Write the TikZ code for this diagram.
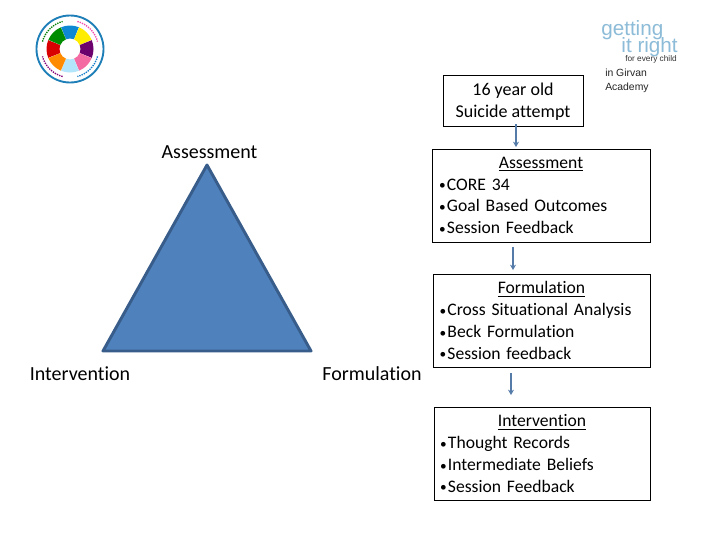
\documentclass[tikz,border=0pt]{standalone}
\usepackage{fontspec}
\setmainfont[Ligatures=CommonOff]{Carlito}
\newfontfamily\logofont{Liberation Sans}
\definecolor{triFill}{HTML}{4F81BD}
\definecolor{triLine}{HTML}{385D8A}
\definecolor{flowLine}{HTML}{557CA8}
\definecolor{logoBlue}{HTML}{8DBCD8}
\definecolor{ringBlue}{HTML}{1E7FB8}
\tikzset{
  box/.style={draw=black,line width=0.75pt,fill=white,inner sep=0pt,font=\fontsize{13.2}{16.3}\selectfont,align=left},
  lbl/.style={inner sep=0pt,font=\fontsize{15}{18}\selectfont},
  flow/.style={draw=flowLine,line width=1.6pt,-{Stealth[length=4pt,width=4.5pt]}},
  smalltxt/.style={inner sep=0pt,font=\logofont\fontsize{7.8}{10}\selectfont,text=black!85,anchor=west},
  logotxt/.style={inner sep=0pt,text=logoBlue,font=\logofont\fontsize{15.5}{14}\selectfont},
  ringtxt/.style={line width=1pt,dash pattern=on 1pt off 0.8pt}
}
\usetikzlibrary{arrows.meta}
\newcommand{\seg}[2]{\fill[#2] (#1-22:10.5) -- (#1-22:23.5) arc[start angle=#1-22,end angle=#1+22,radius=23.5] -- (#1+22:10.5) arc[start angle=#1+22,end angle=#1-22,radius=10.5] -- cycle;}
\newcommand{\blt}{{\fontsize{10}{8}\selectfont\raisebox{0.2pt}{•}}\kern1pt}
\begin{document}
\begin{tikzpicture}[x=0.75pt,y=-0.75pt]
\useasboundingbox (0,0) rectangle (720,540);
\fill[white] (0,0) rectangle (720,540);
% wheel logo
\begin{scope}[shift={(70,49)},x=0.75pt,y=0.75pt]
\draw[ringBlue,line width=1.4pt,fill=white] (0,0) circle[radius=33.5];
\seg{90}{cyan!70!blue}
\seg{45}{yellow!95!orange}
\seg{0}{violet!85!black}
\seg{-45}{magenta!45!pink}
\seg{-90}{cyan!30}
\seg{-135}{orange!90!yellow}
\seg{180}{red!85!black}
\seg{135}{green!55!black}
\draw[ringtxt,green!50!black] (165:28.5) arc[start angle=165,end angle=105,radius=28.5];
\draw[ringtxt,magenta!70] (75:28.5) arc[start angle=75,end angle=15,radius=28.5];
\draw[ringtxt,cyan!60!blue] (-15:28.5) arc[start angle=-15,end angle=-75,radius=28.5];
\draw[ringtxt,purple!70!blue] (-105:28.5) arc[start angle=-105,end angle=-165,radius=28.5];
\end{scope}
% getting it right logo
\node[logotxt,anchor=west] (g1) at (601,30) {getting};
\node[logotxt,anchor=east] (g2) at (678,47) {it right};
\node[inner sep=0pt,anchor=east,font=\logofont\fontsize{6.2}{6}\selectfont,text=black!80] (g3) at (677,59.5) {for every child};
\node[smalltxt] (g4) at (605,73) {in Girvan};
\node[smalltxt] (g5) at (605,87.5) {Academy};
% triangle
\coordinate (ta) at (207,165);
\coordinate (tb) at (103,351);
\coordinate (tc) at (311,351);
\draw[triLine,fill=triFill,line width=2.2pt,line join=round] (ta) -- (tb) -- (tc) -- cycle;
\node[lbl] (la) at (209.5,152) {Assessment};
\node[lbl] (li) at (80,374) {Intervention};
\node[lbl] (lf) at (372,374) {Formulation};
% boxes
\node[box,minimum width=105pt,minimum height=38.25pt,anchor=center] (b1) at (513,100.5) {};
\node[inner sep=0pt,align=center,font=\fontsize{13.5}{16.3}\selectfont] (b1t) at (513,101.5) {16 year old\\Suicide attempt};
\node[box,minimum width=163.5pt,minimum height=69.75pt,anchor=center,text width=153pt] (b2) at (541,195.5) {\makebox[\linewidth]{\underline{Assessment}}\\\blt CORE 34\\\blt Goal Based Outcomes\\\blt Session Feedback};
\node[box,minimum width=162.75pt,minimum height=69.75pt,anchor=center,text width=153pt] (b3) at (541.5,320.5) {\makebox[\linewidth]{\underline{Formulation}}\\\blt Cross Situational Analysis\\\blt Beck Formulation\\\blt Session feedback};
\node[box,minimum width=162pt,minimum height=69.75pt,anchor=center,text width=153pt] (b4) at (542,453.5) {\makebox[\linewidth]{\underline{Intervention}}\\\blt Thought Records\\\blt Intermediate Beliefs\\\blt Session Feedback};
% connectors
\coordinate (a1) at (516,124);
\coordinate (a1e) at (516,147);
\coordinate (a2) at (513,247);
\coordinate (a2e) at (513,270);
\coordinate (a3) at (511,373);
\coordinate (a3e) at (511,395);
\draw[flow] (a1) -- (a1e);
\draw[flow] (a2) -- (a2e);
\draw[flow] (a3) -- (a3e);
\end{tikzpicture}
\end{document}
